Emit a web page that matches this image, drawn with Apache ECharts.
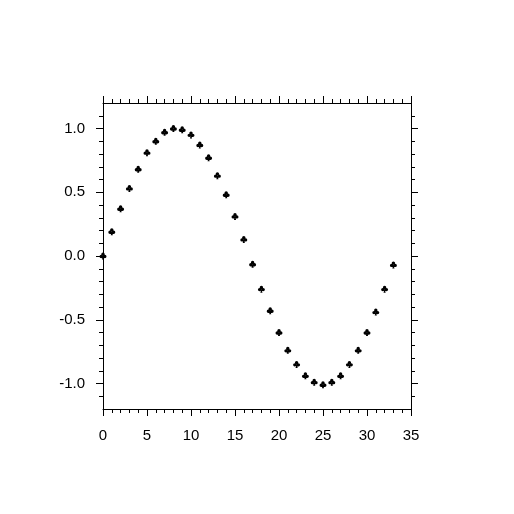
<!DOCTYPE html>
<html>
<head>
<meta charset="utf-8">
<script src="https://cdn.jsdelivr.net/npm/echarts@6/dist/echarts.min.js"></script>
<style>
  html, body { margin: 0; padding: 0; background: #fff; }
  #chart { width: 514px; height: 514px; }
</style>
</head>
<body>
<div id="chart"></div>
<script>
// x positions and values
const xValues = [0, 1, 2, 3, 4, 5, 6, 7, 8, 9, 10, 11, 12, 13, 14, 15, 16,
  17, 18, 19, 20, 21, 22, 23, 24, 25, 26, 27, 28, 29, 30, 31, 32, 33]
const yValues = [0.00, 0.19, 0.37, 0.53, 0.68, 0.81, 0.90, 0.97, 1.00, 0.99, 0.95, 0.87, 0.77, 0.63, 0.48, 0.31, 0.13,
  -0.065, -0.26, -0.43, -0.60, -0.74, -0.85, -0.94, -0.99, -1.01, -0.99, -0.94, -0.85, -0.74, -0.60, -0.44, -0.26, -0.07]

const yMajor = [-1.0, -0.5, 0.0, 0.5, 1.0]
const yMinor = [-1.1, -0.9, -0.8, -0.7, -0.6, -0.4, -0.3, -0.2, -0.1, 0.1, 0.2, 0.3, 0.4, 0.6, 0.7, 0.8, 0.9, 1.1]

// club marker
const club = 'path://M50,6A22,22 0 1,1 49.9,6Z M27,36A22,22 0 1,1 26.9,36Z M73,36A22,22 0 1,1 72.9,36Z M50,50L64,98L36,98Z'

const lineColor = '#000'
const font = { color: '#000', fontSize: 15, fontFamily: '"Liberation Sans", Arial, sans-serif' }

function xAx(pos, showLabel) {
  return {
    type: 'value', position: pos, min: 0, max: 35, interval: 5,
    axisLine: { show: true, onZero: false, lineStyle: { color: lineColor, width: 1 } },
    axisTick: { show: true, inside: false, length: 7, lineStyle: { color: lineColor, width: 1 } },
    minorTick: { show: true, splitNumber: 5, length: 4, lineStyle: { color: lineColor, width: 1 } },
    axisLabel: { show: showLabel, margin: 19, ...font },
    splitLine: { show: false }
  }
}

function yAx(pos, values, len, showLabel) {
  return {
    type: 'value', position: pos, min: -1.2, max: 1.2,
    axisLine: { show: true, onZero: false, lineStyle: { color: lineColor, width: 1 } },
    axisTick: { show: true, inside: false, length: len, customValues: values, lineStyle: { color: lineColor, width: 1 } },
    axisLabel: { show: showLabel, margin: 18, customValues: values, formatter: v => v.toFixed(1), ...font },
    splitLine: { show: false }
  }
}

const chart = echarts.init(document.getElementById('chart'))
chart.setOption({
  backgroundColor: '#fff',
  animation: false,
  grid: { left: 103, top: 103, width: 308, height: 306, containLabel: false },
  xAxis: [xAx('bottom', true), xAx('top', false)],
  yAxis: [
    yAx('left', yMajor, 7, true),
    yAx('left', yMinor, 4, false),
    yAx('right', yMajor, 7, false),
    yAx('right', yMinor, 4, false)
  ],
  series: [{
    type: 'scatter',
    xAxisIndex: 0,
    yAxisIndex: 0,
    symbol: club,
    symbolSize: 7,
    itemStyle: { color: '#000', opacity: 1 },
    data: xValues.map((x, i) => [x, yValues[i]])
  }]
})
</script>
</body>
</html>
